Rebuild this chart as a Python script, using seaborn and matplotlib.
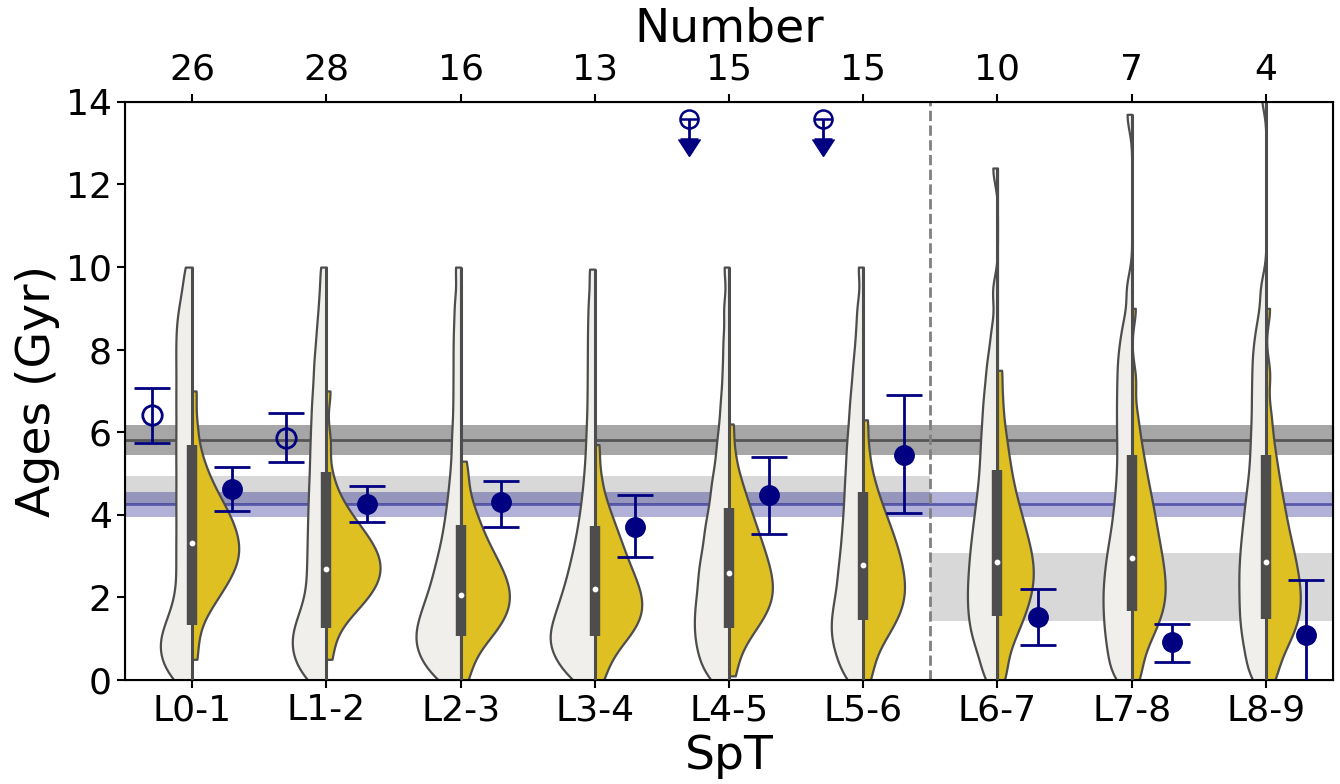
import matplotlib
matplotlib.use("Agg")
import matplotlib.pyplot as plt
import matplotlib.colors as mcolors
import matplotlib.lines as mlines
import numpy as np
import pandas as pd
import seaborn as sns

# spectral type bins and number of objects per bin
spt = ["L0-1", "L1-2", "L2-3", "L3-4", "L4-5", "L5-6", "L6-7", "L7-8", "L8-9"]
numbers = [26, 28, 16, 13, 15, 15, 10, 7, 4]

# age samples (Gyr), left half of each violin
left_L01 = [0.0, 0.09, 0.27, 0.44, 0.58, 0.70, 0.83, 0.95, 1.08, 1.23, 1.38, 1.54, 1.76, 1.98, 2.25, 2.53, 2.80, 3.07, 3.34, 3.61, 3.89,
            4.16, 4.43, 4.70, 4.98, 5.25, 5.52, 5.79, 6.06, 6.34, 6.61, 6.88, 7.15, 7.43, 7.70, 7.97, 8.24, 8.51, 8.79, 9.09, 9.49, 10.0]
left_L12 = [0.0, 0.09, 0.26, 0.43, 0.57, 0.68, 0.80, 0.92, 1.05, 1.17, 1.30, 1.43, 1.58, 1.76, 1.94, 2.15, 2.38, 2.60, 2.82, 3.05, 3.28,
            3.51, 3.74, 3.98, 4.22, 4.46, 4.71, 4.96, 5.23, 5.49, 5.76, 6.03, 6.32, 6.61, 6.90, 7.23, 7.58, 7.91, 8.33, 8.77, 9.33, 10.0]
left_L23 = [0.0, 0.07, 0.20, 0.34, 0.47, 0.58, 0.67, 0.77, 0.86, 0.95, 1.05, 1.14, 1.24, 1.33, 1.43, 1.54, 1.65, 1.76, 1.88, 1.99, 2.14,
            2.28, 2.42, 2.58, 2.75, 2.92, 3.11, 3.33, 3.56, 3.82, 4.10, 4.42, 4.78, 5.19, 5.67, 6.15, 6.72, 7.30, 7.89, 8.48, 9.14, 10.0]
left_L34 = [0.0, 0.08, 0.21, 0.35, 0.48, 0.59, 0.69, 0.78, 0.87, 0.96, 1.05, 1.15, 1.24, 1.34, 1.44, 1.55, 1.66, 1.78, 1.90, 2.02, 2.16,
            2.30, 2.45, 2.61, 2.78, 2.96, 3.15, 3.37, 3.60, 3.86, 4.15, 4.47, 4.84, 5.25, 5.72, 6.22, 6.78, 7.36, 7.95, 8.55, 9.18, 9.95]
left_L45 = [0.0, 0.09, 0.26, 0.44, 0.59, 0.72, 0.85, 0.98, 1.11, 1.23, 1.36, 1.48, 1.61, 1.74, 1.86, 1.99, 2.13, 2.28, 2.42, 2.56, 2.70,
            2.84, 2.98, 3.15, 3.33, 3.50, 3.68, 3.85, 4.03, 4.27, 4.51, 4.74, 4.97, 5.29, 5.63, 5.96, 6.42, 6.90, 7.52, 8.21, 9.02, 10.0]
left_L56 = [0.0, 0.11, 0.33, 0.53, 0.68, 0.82, 0.96, 1.10, 1.23, 1.36, 1.49, 1.63, 1.78, 1.92, 2.07, 2.24, 2.41, 2.59, 2.75, 2.92, 3.12,
            3.32, 3.51, 3.72, 3.93, 4.15, 4.38, 4.61, 4.84, 5.08, 5.34, 5.59, 5.85, 6.13, 6.44, 6.75, 7.08, 7.48, 7.89, 8.43, 9.06, 10.0]
left_L67 = [0.0, 0.18, 0.53, 0.73, 0.93, 1.10, 1.25, 1.41, 1.56, 1.71, 1.85, 2.00, 2.14, 2.29, 2.44, 2.58, 2.74, 2.89, 3.05, 3.21, 3.37,
            3.54, 3.72, 3.90, 4.09, 4.29, 4.49, 4.72, 4.95, 5.19, 5.44, 5.70, 5.95, 6.23, 6.52, 6.81, 7.13, 7.51, 7.89, 8.48, 9.42, 12.4]
left_L78 = [0.0, 0.11, 0.33, 0.54, 0.72, 0.89, 1.06, 1.22, 1.38, 1.54, 1.69, 1.84, 2.00, 2.15, 2.30, 2.45, 2.62, 2.78, 2.95, 3.12, 3.31,
            3.50, 3.72, 3.94, 4.18, 4.43, 4.70, 4.98, 5.28, 5.58, 5.88, 6.17, 6.46, 6.75, 7.04, 7.34, 7.64, 7.94, 8.29, 8.72, 9.49, 13.7]
left_L89 = [0.0, 0.14, 0.42, 0.64, 0.83, 1.03, 1.20, 1.37, 1.54, 1.70, 1.87, 2.03, 2.20, 2.36, 2.52, 2.68, 2.85, 3.01, 3.18, 3.36, 3.53,
            3.72, 3.91, 4.11, 4.32, 4.53, 4.77, 5.01, 5.29, 5.56, 5.84, 6.13, 6.43, 6.74, 7.04, 7.35, 7.67, 7.98, 8.33, 8.77, 9.48, 14.2]

# age samples (Gyr), right (yellow) half of each violin
right_L01 = [0.5, 1.10, 1.55, 1.73, 1.91, 2.05, 2.16, 2.26, 2.36, 2.47, 2.55, 2.63, 2.70, 2.78, 2.85, 2.93, 3.00, 3.07, 3.14, 3.21, 3.28,
             3.35, 3.42, 3.49, 3.57, 3.65, 3.73, 3.81, 3.89, 3.97, 4.06, 4.17, 4.27, 4.38, 4.49, 4.65, 4.81, 4.98, 5.25, 5.57, 6.17, 7.0]
right_L12 = [0.5, 1.00, 1.34, 1.54, 1.65, 1.75, 1.85, 1.96, 2.04, 2.10, 2.17, 2.24, 2.30, 2.37, 2.43, 2.50, 2.56, 2.62, 2.68, 2.74, 2.80,
             2.86, 2.92, 2.98, 3.04, 3.11, 3.18, 3.25, 3.32, 3.39, 3.46, 3.54, 3.64, 3.75, 3.85, 3.95, 4.10, 4.30, 4.50, 4.94, 5.78, 7.0]
right_L23 = [0.0, 0.34, 0.64, 0.82, 0.99, 1.09, 1.17, 1.26, 1.35, 1.44, 1.52, 1.59, 1.66, 1.72, 1.79, 1.86, 1.93, 1.99, 2.06, 2.13, 2.20,
             2.27, 2.34, 2.40, 2.47, 2.55, 2.63, 2.72, 2.80, 2.89, 2.97, 3.07, 3.19, 3.31, 3.43, 3.57, 3.74, 3.91, 4.12, 4.40, 4.85, 5.3]
right_L34 = [0.0, 0.25, 0.57, 0.72, 0.87, 1.01, 1.09, 1.17, 1.25, 1.33, 1.41, 1.49, 1.56, 1.63, 1.70, 1.76, 1.83, 1.90, 1.97, 2.04, 2.12,
             2.19, 2.27, 2.35, 2.42, 2.50, 2.59, 2.69, 2.79, 2.89, 2.98, 3.10, 3.22, 3.35, 3.47, 3.62, 3.79, 3.95, 4.20, 4.47, 4.97, 5.7]
right_L45 = [0.1, 0.54, 0.85, 1.06, 1.18, 1.31, 1.43, 1.53, 1.62, 1.70, 1.78, 1.86, 1.94, 2.02, 2.10, 2.17, 2.25, 2.32, 2.40, 2.47, 2.55,
             2.64, 2.72, 2.81, 2.89, 2.98, 3.07, 3.17, 3.27, 3.37, 3.47, 3.60, 3.72, 3.85, 3.97, 4.14, 4.31, 4.48, 4.73, 4.99, 5.48, 6.2]
right_L56 = [0.0, 0.35, 0.68, 0.90, 1.06, 1.18, 1.30, 1.41, 1.52, 1.61, 1.69, 1.78, 1.86, 1.95, 2.03, 2.11, 2.19, 2.27, 2.35, 2.43, 2.52,
             2.60, 2.69, 2.77, 2.86, 2.95, 3.04, 3.14, 3.24, 3.34, 3.44, 3.56, 3.68, 3.81, 3.94, 4.09, 4.28, 4.46, 4.72, 5.04, 5.56, 6.3]
right_L67 = [0.0, 0.33, 0.70, 0.97, 1.14, 1.29, 1.45, 1.58, 1.69, 1.80, 1.92, 2.03, 2.12, 2.22, 2.31, 2.41, 2.50, 2.60, 2.69, 2.78, 2.88,
             2.97, 3.07, 3.17, 3.28, 3.39, 3.49, 3.62, 3.74, 3.87, 4.00, 4.16, 4.32, 4.48, 4.69, 4.91, 5.15, 5.43, 5.76, 6.16, 6.76, 7.5]
right_L78 = [0.0, 0.31, 0.66, 0.90, 1.08, 1.21, 1.35, 1.49, 1.60, 1.70, 1.80, 1.91, 2.01, 2.11, 2.21, 2.31, 2.41, 2.51, 2.62, 2.72, 2.83,
             2.94, 3.05, 3.17, 3.29, 3.41, 3.54, 3.68, 3.82, 3.95, 4.11, 4.27, 4.43, 4.62, 4.82, 5.03, 5.29, 5.57, 5.93, 6.42, 7.28, 9.0]
right_L89 = [0.0, 0.21, 0.56, 0.73, 0.90, 1.05, 1.16, 1.27, 1.38, 1.50, 1.59, 1.69, 1.79, 1.88, 1.98, 2.08, 2.18, 2.28, 2.38, 2.48, 2.58,
             2.70, 2.81, 2.92, 3.03, 3.16, 3.29, 3.42, 3.56, 3.72, 3.88, 4.04, 4.23, 4.42, 4.64, 4.88, 5.15, 5.47, 5.88, 6.45, 7.41, 9.0]

left_ages = [left_L01, left_L12, left_L23, left_L34, left_L45, left_L56, left_L67, left_L78, left_L89]
right_ages = [right_L01, right_L12, right_L23, right_L34, right_L45, right_L56, right_L67, right_L78, right_L89]

# inner box (quartiles)
box_q1 = [1.34, 1.25, 1.07, 1.06, 1.26, 1.46, 1.54, 1.67, 1.47]
box_med = [3.32, 2.69, 2.06, 2.20, 2.60, 2.79, 2.86, 2.96, 2.86]
box_q3 = [5.70, 5.03, 3.76, 3.74, 4.16, 4.55, 5.08, 5.46, 5.44]

# measured ages with errors (filled symbols)
obs_age = [4.63, 4.26, 4.30, 3.71, 4.47, 5.46, 1.53, 0.91, 1.08]
obs_err_lo = [0.54, 0.43, 0.59, 0.72, 0.93, 1.41, 0.69, 0.48, 1.34]
obs_err_hi = [0.54, 0.43, 0.53, 0.78, 0.94, 1.43, 0.68, 0.45, 1.34]

# alternative estimates (open symbols), only first two bins
alt_idx = [0, 1]
alt_age = [6.41, 5.87]
alt_err_lo = [0.68, 0.59]
alt_err_hi = [0.67, 0.59]

# upper limits (open symbols with arrows)
lim_idx = [4, 5]
lim_age = [13.59, 13.59]
lim_len = [0.5, 0.5]

# reference bands: (low, centre, high)
band_dark = (5.45, 5.82, 6.17)
band_blue = (3.95, 4.25, 4.55)
band_early = (4.25, 4.95)
band_late = (1.44, 3.08)
n_early = 6   # L0-L6 on the left of the dashed line

KDE_BW = 0.38        # same kernel width (Gyr) for every half
LEFT_STRETCH = 1.28  # left halves drawn a bit wider than pure area scaling
LIGHT = "#f0efeb"
GOLD = "#dec022"

# long-form table for seaborn
rows = []
for name, a, b in zip(spt, left_ages, right_ages):
    rows += [(name, "A", v) for v in a]
    rows += [(name, "B", v) for v in b]
df = pd.DataFrame(rows, columns=["SpT", "set", "age"])

fig, ax = plt.subplots(figsize=(13.4, 7.84), dpi=100)
fig.subplots_adjust(left=0.0933, right=0.9948, bottom=0.1327, top=0.870)

pos = np.arange(len(spt))
off = 0.3
xmin, xmax = -0.5, len(spt) - 0.5
split_x = n_early - 0.5

# background bands
ax.axhspan(band_dark[0], band_dark[2], color="gray", alpha=0.7, lw=0, zorder=0)
ax.axhline(band_dark[1], color="#555555", lw=2, zorder=0.5)
ax.fill_between([xmin, split_x], band_early[0], band_early[1], color="gray", alpha=0.3, lw=0, zorder=0)
ax.fill_between([split_x, xmax], band_late[0], band_late[1], color="gray", alpha=0.3, lw=0, zorder=0)
ax.axhspan(band_blue[0], band_blue[2], color="navy", alpha=0.3, lw=0, zorder=0)
ax.axhline(band_blue[1], color="navy", alpha=0.5, lw=2, zorder=0.5)
ax.axvline(split_x, color="gray", ls="--", lw=2, zorder=0.5)

sns.violinplot(data=df, x="SpT", y="age", hue="set", order=spt, hue_order=["A", "B"],
               split=True, inner=None, cut=0, density_norm="area", common_norm=True,
               bw_method=lambda k: KDE_BW / np.std(k.dataset, ddof=1),
               palette=[LIGHT, GOLD], saturation=1, linecolor="#4d4d4d",
               linewidth=1.6, width=0.8, gap=0, legend=False, ax=ax, zorder=2)

# widen the left halves about their centre line
light_rgba = mcolors.to_rgba(LIGHT)
for coll in ax.collections:
    fc = coll.get_facecolor()
    if len(fc) and np.allclose(fc[0], light_rgba, atol=0.01):
        for path in coll.get_paths():
            v = path.vertices.copy()
            c = v[:, 0].max()
            v[:, 0] = c - (c - v[:, 0]) * LEFT_STRETCH
            path.vertices = v

# inner box: whisker over the full range, thick box, white median
lo_all = [min(min(a), min(b)) for a, b in zip(left_ages, right_ages)]
hi_all = [max(max(a), max(b)) for a, b in zip(left_ages, right_ages)]
ax.vlines(pos, lo_all, hi_all, color="#4d4d4d", lw=2.2, zorder=3)
ax.vlines(pos, box_q1, box_q3, color="#4d4d4d", lw=7.5, zorder=3)
ax.scatter(pos, box_med, s=10, color="white", zorder=4)

# points with error bars
ax.errorbar(pos + off, obs_age, yerr=[obs_err_lo, obs_err_hi], fmt="o", color="navy",
            ms=14, capsize=13, elinewidth=2, capthick=2, zorder=5)
ax.errorbar(np.array(alt_idx) - off, alt_age, yerr=[alt_err_lo, alt_err_hi], fmt="o", color="navy",
            mfc="none", mew=2, ms=14, capsize=13, elinewidth=2, capthick=2, zorder=5)
lim_x = np.array(lim_idx) - off
ax.errorbar(lim_x, lim_age, yerr=[lim_len, np.zeros(len(lim_len))], fmt="o", color="navy",
            mfc="none", mew=1.8, ms=13, capsize=6.5, elinewidth=2, capthick=1.8, zorder=5)
ax.plot(lim_x, np.array(lim_age) - np.array(lim_len), ls="none", marker=mlines.CARETDOWNBASE,
        ms=16, color="navy", zorder=5)

ax.set_xlim(xmin, xmax)
ax.set_ylim(0, 14)
ax.set_yticks(np.arange(0, 15, 2))
ax.set_xlabel("SpT", fontsize=34, labelpad=5)
ax.set_ylabel("Ages (Gyr)", fontsize=34)
ax.tick_params(labelsize=26, length=6, width=1.5)
for s in ax.spines.values():
    s.set_linewidth(1.5)

ax2 = ax.twiny()
ax2.set_xlim(ax.get_xlim())
ax2.set_xticks(pos)
ax2.set_xticklabels([str(n) for n in numbers])
ax2.set_xlabel("Number", fontsize=34, labelpad=8)
ax2.tick_params(labelsize=26, length=6, width=1.5, pad=5)

plt.savefig("out.png", dpi=100)
